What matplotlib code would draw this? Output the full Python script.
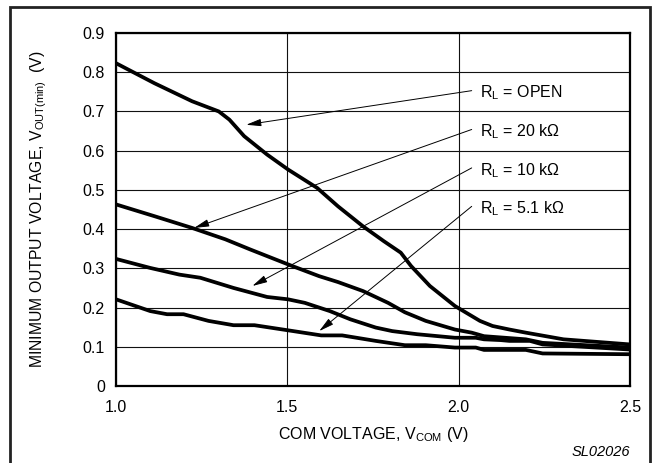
import matplotlib
matplotlib.use('Agg')
import matplotlib.pyplot as plt
from matplotlib.patches import Rectangle

plt.rcParams['font.family'] = ['Liberation Sans', 'DejaVu Sans']
plt.rcParams['mathtext.fontset'] = 'custom'
plt.rcParams['mathtext.rm'] = 'Liberation Sans'
plt.rcParams['mathtext.it'] = 'Liberation Sans:italic'

x_open = [1.0, 1.112, 1.222, 1.30, 1.331, 1.374, 1.441, 1.502, 1.587, 1.648, 1.721, 1.782,
          1.831, 1.861, 1.916, 1.989, 2.062, 2.099, 2.148, 2.196, 2.306, 2.5]
y_open = [0.823, 0.772, 0.726, 0.700, 0.679, 0.637, 0.590, 0.552, 0.505, 0.458, 0.407, 0.369,
          0.340, 0.306, 0.255, 0.204, 0.166, 0.153, 0.144, 0.136, 0.119, 0.106]

x_20k = [1.0, 1.112, 1.222, 1.319, 1.392, 1.453, 1.514, 1.593, 1.648, 1.721, 1.794, 1.843,
         1.904, 1.989, 2.038, 2.074, 2.135, 2.196, 2.245, 2.5]
y_20k = [0.463, 0.433, 0.403, 0.374, 0.348, 0.327, 0.306, 0.280, 0.265, 0.242, 0.212, 0.188,
         0.166, 0.144, 0.136, 0.127, 0.123, 0.119, 0.110, 0.098]

x_10k = [1.0, 1.100, 1.185, 1.246, 1.343, 1.441, 1.502, 1.551, 1.624, 1.684, 1.758, 1.806,
         1.879, 1.989, 2.050, 2.074, 2.123, 2.148, 2.208, 2.245, 2.5]
y_10k = [0.324, 0.301, 0.284, 0.276, 0.250, 0.227, 0.221, 0.212, 0.191, 0.170, 0.149, 0.140,
         0.132, 0.123, 0.123, 0.119, 0.117, 0.115, 0.115, 0.106, 0.093]

x_5k1 = [1.0, 1.100, 1.149, 1.197, 1.270, 1.343, 1.404, 1.502, 1.599, 1.660, 1.758, 1.843,
         1.904, 1.989, 2.050, 2.074, 2.196, 2.245, 2.5]
y_5k1 = [0.221, 0.191, 0.183, 0.183, 0.166, 0.155, 0.155, 0.142, 0.129, 0.129, 0.115, 0.104,
         0.104, 0.098, 0.098, 0.092, 0.092, 0.083, 0.081]

labels = [r'R$_\mathrm{L}$ = OPEN', r'R$_\mathrm{L}$ = 20 k$\Omega$',
          r'R$_\mathrm{L}$ = 10 k$\Omega$', r'R$_\mathrm{L}$ = 5.1 k$\Omega$']
label_y = [0.747, 0.648, 0.550, 0.452]
arrow_tip = [(1.380, 0.666), (1.228, 0.403), (1.398, 0.255), (1.593, 0.140)]

x_ticks = [1.0, 1.5, 2.0, 2.5]
y_ticks = [0, 0.1, 0.2, 0.3, 0.4, 0.5, 0.6, 0.7, 0.8, 0.9]

fig = plt.figure(figsize=(6.54, 4.63), dpi=100)
ax = fig.add_axes([116/654, 1-386/463, (630-116)/654, (386-33)/463])

for xs, ys in [(x_open, y_open), (x_20k, y_20k), (x_10k, y_10k), (x_5k1, y_5k1)]:
    ax.plot(xs, ys, color='black', lw=2.7, solid_joinstyle='round', zorder=3)

for lab, ly, tip in zip(labels, label_y, arrow_tip):
    ax.annotate('', xy=tip, xytext=(2.038, ly + 0.006),
                arrowprops=dict(arrowstyle='-|>,head_length=0.9,head_width=0.22',
                                color='black', lw=0.7, shrinkA=0, shrinkB=0), zorder=4)
    ax.text(2.062, ly, lab, fontsize=11.5, va='center', ha='left', zorder=5)

ax.set_xlim(1.0, 2.5)
ax.set_ylim(0, 0.9)
ax.set_xticks(x_ticks)
ax.set_xticklabels(['1.0', '1.5', '2.0', '2.5'])
ax.set_yticks(y_ticks)
ax.set_yticklabels(['0', '0.1', '0.2', '0.3', '0.4', '0.5', '0.6', '0.7', '0.8', '0.9'])
ax.tick_params(axis='x', length=0, labelsize=11.5, pad=10)
ax.tick_params(axis='y', length=0, labelsize=11.5, pad=8)
ax.grid(True, color='#111111', lw=0.8)
ax.set_axisbelow(True)
for s in ax.spines.values():
    s.set_linewidth(1.6)

ax.set_xlabel(r'COM VOLTAGE, V$_\mathrm{COM}$ (V)', fontsize=11.5, labelpad=7)
ax.set_ylabel(r'MINIMUM OUTPUT VOLTAGE, V$_\mathrm{OUT(min)}$  (V)', fontsize=11.3, labelpad=24)
fig.text(630/654, 1-452/463, 'SL02026', fontsize=10.5, style='italic', ha='right', va='center')

fig.patches.append(Rectangle((10/654, -0.05), (650-10)/654, 1.05 - 7/463, transform=fig.transFigure,
                             fill=False, ec='#222222', lw=2))

fig.savefig('out.png', dpi=100)
